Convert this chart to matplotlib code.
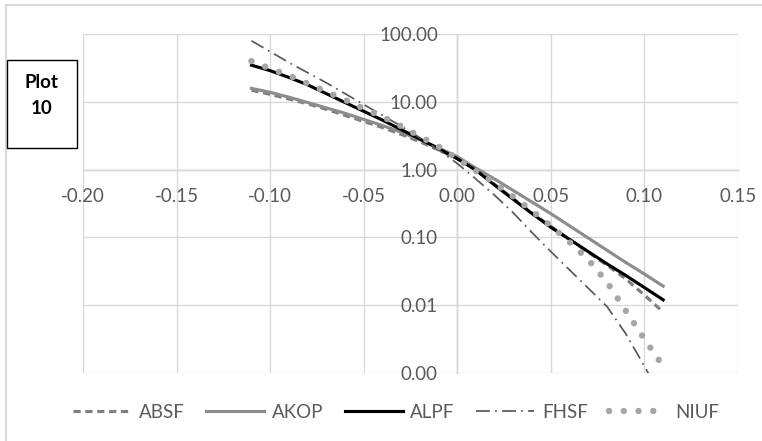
import matplotlib
matplotlib.use("Agg")
import matplotlib.pyplot as plt
from matplotlib.patches import Rectangle
from matplotlib.ticker import FixedLocator, NullLocator, FuncFormatter

plt.rcParams["font.family"] = ["Lato", "DejaVu Sans"]

# ── data ───────────────────────────────────────────────────────────────────
x = [-0.11, -0.10, -0.09, -0.08, -0.07, -0.06, -0.05, -0.04, -0.03, -0.02, -0.01,
     0.00, 0.01, 0.02, 0.03, 0.04, 0.05, 0.06, 0.07, 0.08, 0.09, 0.10, 0.11]

absf = [14.8, 12.9, 11.0, 9.33, 7.76, 6.31, 5.13, 4.17, 3.31, 2.57, 1.95,
        1.45, 1.00, 0.603, 0.372, 0.229, 0.145, 0.0933, 0.0603, 0.0389, 0.0245, 0.0141, 0.00794]
akop = [15.8, 13.8, 11.7, 9.77, 8.13, 6.76, 5.50, 4.47, 3.55, 2.75, 2.09,
        1.55, 1.05, 0.724, 0.490, 0.331, 0.224, 0.148, 0.0977, 0.0646, 0.0427, 0.0288, 0.0191]
alpf = [34.7, 28.8, 22.9, 17.8, 13.2, 9.77, 7.24, 5.37, 3.89, 2.82, 2.04,
        1.45, 0.977, 0.589, 0.363, 0.224, 0.141, 0.0933, 0.0617, 0.0407, 0.0275, 0.0182, 0.0120]
fhsf = [79.4, 55.0, 38.0, 26.9, 19.1, 13.2, 9.12, 6.31, 4.37, 2.95, 1.95,
        1.23, 0.724, 0.417, 0.229, 0.117, 0.0617, 0.0331, 0.0178, 0.00955, 0.00380, 0.00126, 0.000398]
niuf = [39.8, 30.9, 24.5, 18.6, 14.1, 10.7, 7.94, 6.03, 4.37, 3.09, 2.19,
        1.45, 0.955, 0.631, 0.398, 0.245, 0.148, 0.0851, 0.0468, 0.0219, 0.00832, 0.00316, 0.00126]

x_ticks = [-0.20, -0.15, -0.10, -0.05, 0.00, 0.05, 0.10, 0.15]
y_ticks = [0.001, 0.01, 0.1, 1, 10, 100]

GRID = "#d9d9d9"
TXT = "#595959"

fig = plt.figure(figsize=(7.62, 4.41), dpi=100)
ax = fig.add_axes([83 / 762, 1 - 373 / 441, 655 / 762, 339 / 441])

# series (Excel draw order, NIUF on top)
ax.plot(x, absf, color="#7f7f7f", lw=2.25, dashes=(2.3, 1.5), label="ABSF")
ax.plot(x, akop, color="#8c8c8c", lw=2.25, label="AKOP")
ax.plot(x, alpf, color="black", lw=2.25, label="ALPF")
ax.plot(x, fhsf, color="#595959", lw=1.25, dashes=(8, 3, 1, 3), label="FHSF")
ax.plot(x, niuf, color="#a6a6a6", lw=4.6, dashes=(0.01, 2.3),
        dash_capstyle="round", label="NIUF")

ax.set_yscale("log")
ax.set_xlim(-0.20, 0.15)
ax.set_ylim(0.001, 100)
ax.xaxis.set_major_locator(FixedLocator(x_ticks))
ax.yaxis.set_major_locator(FixedLocator(y_ticks))
ax.yaxis.set_minor_locator(NullLocator())
ax.xaxis.set_major_formatter(FuncFormatter(lambda v, p: f"{v:.2f}"))
ax.yaxis.set_major_formatter(FuncFormatter(lambda v, p: f"{v:.2f}"))

ax.grid(True, color=GRID, lw=1.0)
for gl in ax.get_xgridlines() + ax.get_ygridlines():
    gl.set_clip_on(False)
ax.set_axisbelow(True)

# axes cross at (0, 1)
for s in ("top", "right"):
    ax.spines[s].set_visible(False)
ax.spines["bottom"].set_position(("data", 1))
ax.spines["left"].set_position(("data", 0))
for s in ("bottom", "left"):
    ax.spines[s].set_color("#bfbfbf")
    ax.spines[s].set_linewidth(1.0)
    ax.spines[s].set_zorder(0.5)
ax.tick_params(axis="x", length=0, pad=13.5, labelsize=13.5, labelcolor=TXT)
ax.tick_params(axis="y", length=0, pad=14, labelsize=13.5, labelcolor=TXT)

ax.legend(loc="center", bbox_to_anchor=(396 / 762, 1 - 412 / 441),
          bbox_transform=fig.transFigure, ncol=5, frameon=False, fontsize=13.5,
          handlelength=3.1, handletextpad=0.4, columnspacing=1.15,
          labelcolor=TXT)

# outer chart border
fig.patches.append(Rectangle((6 / 762, -0.02), 1.0, 1 - 5 / 441 + 0.02,
                             transform=fig.transFigure, fill=False,
                             edgecolor=GRID, lw=1.5))

# "Plot 10" box
fig.patches.append(Rectangle((7 / 762, 1 - 148 / 441), 70 / 762, 88 / 441,
                             transform=fig.transFigure, facecolor="white",
                             edgecolor="black", lw=1.0))
fig.text(42 / 762, 1 - 82 / 441, "Plot", ha="center", va="center",
         fontsize=13.5, fontweight="bold", color="black")
fig.text(42 / 762, 1 - 109 / 441, "10", ha="center", va="center",
         fontsize=13.5, fontweight="bold", color="black")

fig.savefig("out.png", dpi=100)
